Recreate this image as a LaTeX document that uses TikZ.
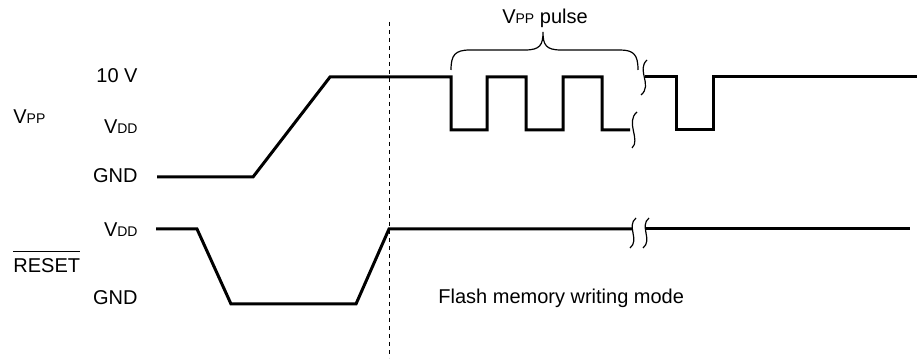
\documentclass[tikz,border=0pt]{standalone}
\usepackage{fontspec}
\setmainfont{Liberation Sans}

\newcommand\subidx[1]{{\fontsize{7}{8}\selectfont #1}}

\begin{document}
\begin{tikzpicture}[x=0.5pt, y=-0.5pt,
  wave/.style={line width=1.5pt, line join=miter},
  brk/.style={line width=0.6pt},
  lbl/.style={font=\fontsize{10}{12}\selectfont, inner sep=0pt}]

\useasboundingbox (0,0) rectangle (919,362);

% dashed marker
\draw [line width=0.5pt, dash pattern=on 1.8pt off 2.2pt] (389,22) -- (389,358);

% Vpp waveform
\draw [wave] (157,177) -- (253,177) -- (330,77) -- (451,77) -- (451,130) -- (487,130) -- (487,77) -- (526,77) -- (526,130) -- (563,130) -- (563,77) -- (602,77) -- (602,130) -- (630,130);
\draw [wave] (645,77) -- (676,77) -- (676,130) -- (713,130) -- (713,77) -- (917,77);

\draw [brk] (647,60) .. controls (636,70) and (653,85) .. (641,95);
\draw [brk] (637,112) .. controls (625,122) and (641,140) .. (632,148);

% brace over the pulses
\draw [brk] (451,70) .. controls (451,55) and (455,50) .. (470,50) -- (525,50) .. controls (540,50) and (543,45) .. (543,32) .. controls (543,45) and (546,50) .. (561,50) -- (620,50) .. controls (634,50) and (638,55) .. (638,70);
\node [lbl] (pulse) at (545,18) {V\subidx{PP} pulse};

\node [lbl, anchor=west] (vpp) at (13,117) {V\subidx{PP}};
\node [lbl, anchor=east] (high) at (138,76) {10 V};
\node [lbl, anchor=east] (vddA) at (138,127) {V\subidx{DD}};
\node [lbl, anchor=east] (gndA) at (138,176) {GND};

% RESET waveform
\draw [wave] (156,229) -- (197,229) -- (231,304) -- (356,304) -- (389,229) -- (632,229);
\draw [wave] (645,229) -- (910,229);

\foreach \bx in {633,646}
  \draw [brk] ({\bx+3},218) .. controls ({\bx-7},226) and ({\bx+7},240) .. ({\bx-3},248);

\node [lbl, anchor=west] (rst) at (13,266) {RESET};
\draw [line width=0.5pt] ([yshift=3.5pt]rst.north west) -- ([yshift=3.5pt]rst.north east);
\node [lbl, anchor=east] (vddB) at (138,230) {V\subidx{DD}};
\node [lbl, anchor=east] (gndB) at (138,298) {GND};

\node [lbl, anchor=west] (mode) at (438,298) {Flash memory writing mode};

\end{tikzpicture}
\end{document}
